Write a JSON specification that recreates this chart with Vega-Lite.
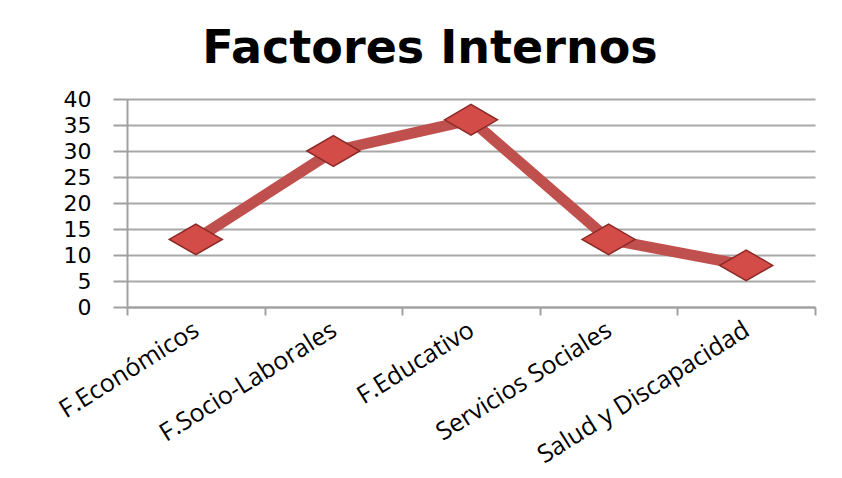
{
  "$schema": "https://vega.github.io/schema/vega-lite/v6.json",
  "autosize": "none",
  "width": 688,
  "height": 208,
  "padding": {"left": 127, "top": 99, "right": 27, "bottom": 171},
  "background": "white",
  "title": {
    "text": "Factores Internos",
    "font": "DejaVu Sans",
    "fontSize": 46,
    "fontWeight": "bold",
    "color": "black",
    "anchor": "middle",
    "dx": -41,
    "offset": 15
  },
  "data": {
    "values": [
      {"factor": "F.Económicos", "valor": 13},
      {"factor": "F.Socio-Laborales", "valor": 30},
      {"factor": "F.Educativo", "valor": 36},
      {"factor": "Servicios Sociales", "valor": 13},
      {"factor": "Salud y Discapacidad", "valor": 8}
    ]
  },
  "encoding": {
    "x": {
      "field": "factor",
      "type": "nominal",
      "sort": null,
      "title": null,
      "scale": {"paddingInner": 0, "paddingOuter": 0},
      "axis": {
        "labelAngle": -32,
        "labelFont": "Open Sans",
        "labelFontSize": 25,
        "labelColor": "black",
        "labelPadding": 2,
        "labelOffset": -6,
        "labelLimit": 0,
        "labelOverlap": false,
        "tickBand": "extent",
        "tickSize": 8,
        "tickColor": "#a0a0a0",
        "tickWidth": 2,
        "domainColor": "#a0a0a0",
        "domainWidth": 2,
        "grid": false
      }
    },
    "y": {
      "field": "valor",
      "type": "quantitative",
      "title": null,
      "scale": {"domain": [0, 40], "nice": false},
      "axis": {
        "values": [0, 5, 10, 15, 20, 25, 30, 35, 40],
        "labelFont": "DejaVu Sans",
        "labelFontSize": 22,
        "labelColor": "black",
        "labelPadding": 22,
        "tickSize": 14,
        "tickColor": "#a0a0a0",
        "tickWidth": 2,
        "domainColor": "#a0a0a0",
        "domainWidth": 2,
        "gridColor": "#a8a8a8",
        "gridWidth": 2
      }
    }
  },
  "layer": [
    {
      "mark": {"type": "line", "color": "#c0504d", "strokeWidth": 11, "strokeJoin": "round"}
    },
    {
      "mark": {
        "type": "point",
        "shape": "M-1,0L0,-0.58L1,0L0,0.58Z",
        "size": 2800,
        "filled": true,
        "fill": "#d44c48",
        "stroke": "#8c2a27",
        "strokeWidth": 1.5,
        "opacity": 1
      }
    }
  ],
  "config": {"view": {"stroke": null}}
}
